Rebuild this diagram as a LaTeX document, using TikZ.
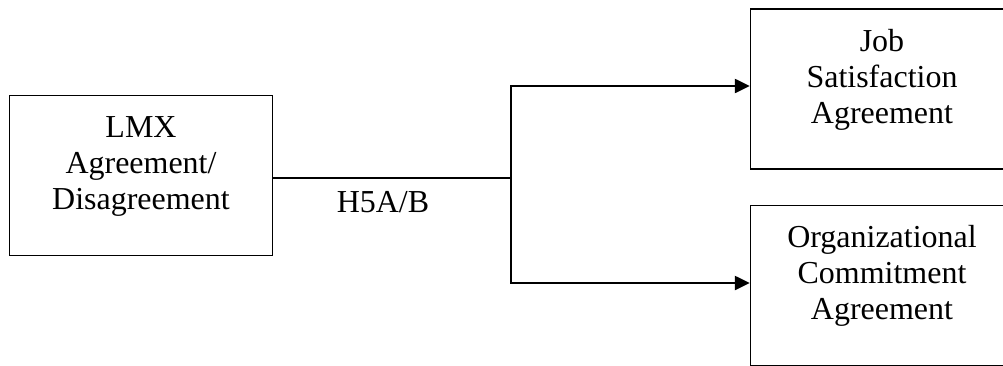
\documentclass[tikz,border=0pt]{standalone}
\usepackage{fontspec}
\setmainfont{Liberation Serif}
\usepackage{tikz}
\usetikzlibrary{arrows.meta, positioning}
\tikzset{
  font=\fontsize{18.2}{20.6}\selectfont,          % serif text everywhere
  varbox/.style  = {rectangle, draw, line width=0.8pt, inner sep=0pt,
                    minimum width=5.26cm, minimum height=3.2cm,
                    text width=5cm, align=center,
                    text height=0.84cm, text depth=2.36cm},
  link/.style    = {line width=1.3pt},
  arrow/.style   = {link, -{Triangle[length=0.3cm, width=0.28cm]}}
}

\begin{document}
\begin{tikzpicture}[x=0.02cm, y=-0.02cm]
  \useasboundingbox (0,0) rectangle (1003,365);
  \clip (0,0) rectangle (1003,365);
  % variables
  \node[varbox] (lmx) at (141,175.5) {LMX\\ Agreement/\\ Disagreement};
  \node[varbox] (jsa) at (882,89)    {Job\\ Satisfaction\\ Agreement};
  \node[varbox] (oca) at (882,285.5) {Organizational\\ Commitment\\ Agreement};
  % fork
  \coordinate (fork) at (511,178);
  \draw[link] (lmx.east |- fork) -- (fork);
  \draw[arrow] (fork) |- ([yshift=0.06cm]jsa.west);
  \draw[arrow] (fork) |- ([yshift=0.05cm]oca.west);
  \node (hyp) at (383,202) {H5A/B};
\end{tikzpicture}
\end{document}
